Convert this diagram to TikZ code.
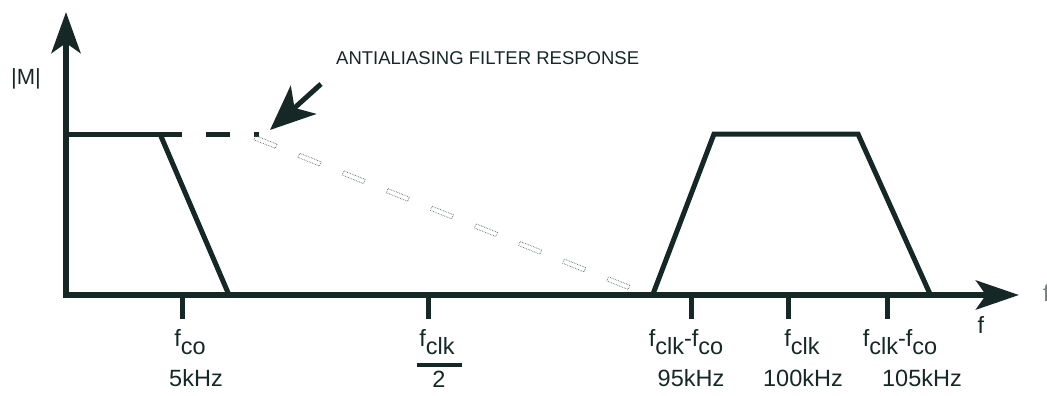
\documentclass[tikz,border=0pt]{standalone}
\usepackage{fontspec}
\setmainfont{Liberation Sans}
\usetikzlibrary{arrows.meta}
\definecolor{ink}{RGB}{22,40,38}
\newcommand{\lsub}[1]{\raisebox{-0.36em}{#1}}
\begin{document}
\begin{tikzpicture}[x=1pt,y=-1pt,
  axis/.style={draw=ink,line width=6pt},
  curve/.style={draw=ink,line width=5pt},
  tick/.style={draw=ink,line width=5pt},
  lbl/.style={text=ink,font=\fontsize{23.5}{25}\selectfont,inner sep=0pt},
  hollow/.style={draw=ink!70,densely dotted,line width=0.7pt,rectangle,minimum width=23pt,minimum height=4.5pt,inner sep=0pt,rotate=-21.8}]
\useasboundingbox (0,0) rectangle (1047,396);
% axes
\coordinate (ybot) at (66,298);
\coordinate (ytip) at (66,12);
\coordinate (xleft) at (63,295);
\coordinate (xtip) at (1019,295);
\draw[axis,-{Stealth[length=41pt,width=29pt,inset=10pt]}] (ybot) -- (ytip);
\draw[axis,-{Stealth[length=43pt,width=29pt,inset=10pt]}] (xleft) -- (xtip);
% filter response
\coordinate (f0) at (66,134);
\coordinate (f1) at (160,134);
\coordinate (f2) at (182,134);
\coordinate (f3) at (206,134);
\coordinate (f4) at (230,134);
\coordinate (fb) at (229,295);
\draw[curve] (f0) -- (f2);
\draw[curve] (f3) -- (f4);
\fill[ink] (254,132) rectangle (259,137);
\draw[curve] (f1) -- (fb);
\foreach \i in {0,...,8}{
  \node[hollow] (h\i) at ({265.5+44.1*\i},{142+17.64*\i}) {};
}
% image band
\coordinate (t0) at (653,294);
\coordinate (t1) at (714,134);
\coordinate (t2) at (858,134);
\coordinate (t3) at (930,294);
\draw[curve] (t0) -- (t1) -- (t2) -- (t3);
% annotation arrow
\coordinate (as) at (321,84);
\coordinate (at) at (270,130);
\draw[draw=ink,line width=5pt,-{Stealth[length=45pt,width=38pt,inset=12pt]}] (as) -- (at);
\node[text=ink,font=\fontsize{18.5}{20}\selectfont,inner sep=0pt,anchor=west] (ann) at (336,58) {ANTIALIASING FILTER RESPONSE};
\node[lbl,font=\fontsize{22}{24}\selectfont] (m) at (26,79) {|M|};
% ticks
\foreach \x/\n in {182/a,428/b,691/c,788/d,887/e}{
  \coordinate (\n1) at (\x,297);
  \coordinate (\n2) at (\x,\ifx\n b 323\else 319\fi);
  \draw[tick] (\n1) -- (\n2);
}
% labels
\node[lbl] (lfco) at (190,342) {f\lsub{co}};
\node[lbl] (l5) at (196,378) {5kHz};
\node[lbl] (lfclk) at (437,342) {f\lsub{clk}};
\fill[ink] (417,363) rectangle (462,367);
\node[lbl] (l2) at (439,379) {2};
\node[lbl] (lm) at (686,342) {f\lsub{clk}-f\lsub{co}};
\node[lbl] (l95) at (691,378) {95kHz};
\node[lbl] (lc) at (802,342) {f\lsub{clk}};
\node[lbl] (l100) at (803,378) {100kHz};
\node[lbl] (lp) at (900,342) {f\lsub{clk}-f\lsub{co}};
\node[lbl] (l105) at (922,378) {105kHz};
\node[lbl] (lf) at (981,325) {f};
\node[lbl,anchor=west,text=ink!60] (lf2) at (1043,293) {f};
\end{tikzpicture}
\end{document}
